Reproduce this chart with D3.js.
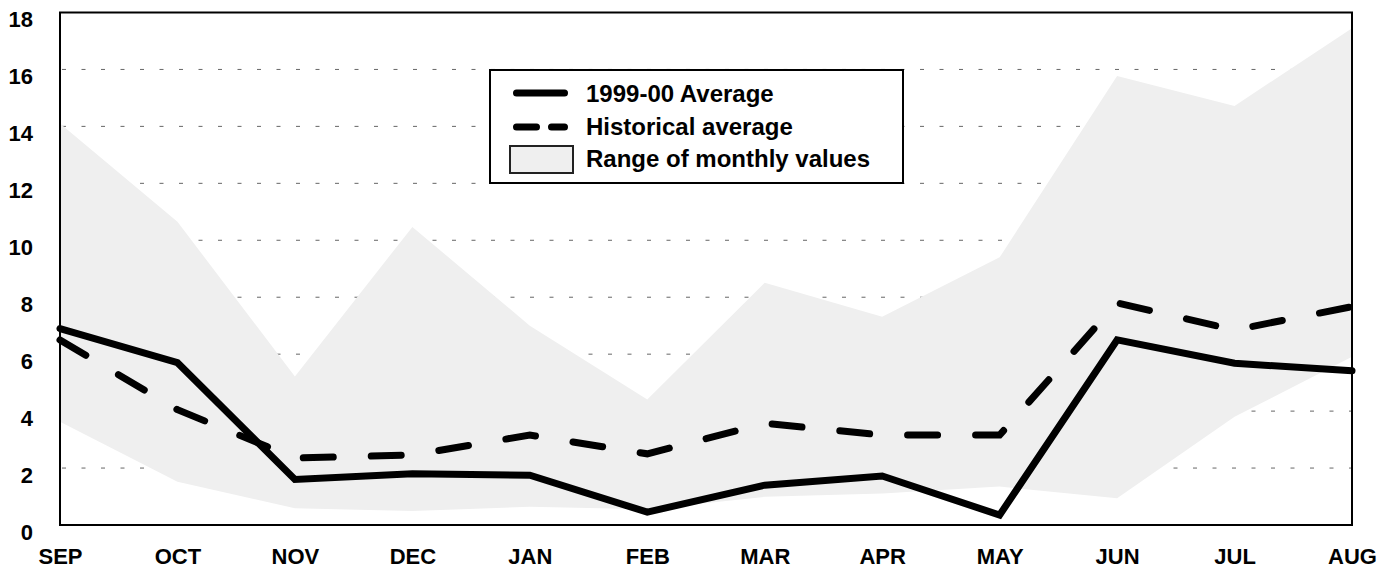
<!DOCTYPE html>
<html>
<head>
<meta charset="utf-8">
<script src="https://cdn.jsdelivr.net/npm/d3@7"></script>
<style>
  body { margin: 0; background: #fff; }
  text { font-family: "Liberation Sans", Arial, sans-serif; font-weight: bold; }
</style>
</head>
<body>
<div id="chart"></div>
<script>
var months = ['SEP', 'OCT', 'NOV', 'DEC', 'JAN', 'FEB', 'MAR', 'APR', 'MAY', 'JUN', 'JUL', 'AUG'];
var avg9900 = [6.9, 5.7, 1.6, 1.8, 1.75, 0.45, 1.4, 1.72, 0.35, 6.5, 5.68, 5.42];
var histAvg = [6.5, 4.05, 2.35, 2.46, 3.16, 2.5, 3.57, 3.16, 3.16, 7.8, 6.85, 7.67];
var rangeHigh = [14.1, 10.65, 5.22, 10.47, 7.0, 4.41, 8.51, 7.31, 9.4, 15.77, 14.72, 17.45];
var rangeLow = [3.63, 1.52, 0.59, 0.49, 0.64, 0.55, 0.99, 1.11, 1.35, 0.94, 3.8, 5.91];
var yTicks = [0, 2, 4, 6, 8, 10, 12, 14, 16, 18];
var gridVals = [2, 4, 6, 8, 10, 12, 14, 16];

var width = 1394, height = 575;
var plotLeft = 60, plotRight = 1352, plotTop = 12.5, plotBottom = 525;

var svg = d3.select('#chart').append('svg')
    .attr('width', width)
    .attr('height', height);

var x = d3.scalePoint()
    .domain(months)
    .range([plotLeft, plotRight]);

var y = d3.scaleLinear()
    .domain([0, 18])
    .range([plotBottom, plotTop]);

var data = months.map(function(m, i) {
    return {m: m, a: avg9900[i], h: histAvg[i], hi: rangeHigh[i], lo: rangeLow[i]};
});

// dotted grid first, the range area covers it
svg.append('g').selectAll('line')
    .data(gridVals)
    .enter().append('line')
    .attr('x1', plotLeft + 2)
    .attr('x2', plotRight)
    .attr('y1', function(d) { return y(d); })
    .attr('y2', function(d) { return y(d); })
    .attr('stroke', '#666')
    .attr('stroke-width', 1)
    .attr('stroke-dasharray', '4,15.5');

var area = d3.area()
    .x(function(d) { return x(d.m); })
    .y0(function(d) { return y(d.lo); })
    .y1(function(d) { return y(d.hi); });

svg.append('path')
    .datum(data)
    .attr('d', area)
    .attr('fill', '#efefef');

var lineHist = d3.line()
    .x(function(d) { return x(d.m); })
    .y(function(d) { return y(d.h); });

var lineAvg = d3.line()
    .x(function(d) { return x(d.m); })
    .y(function(d) { return y(d.a); });

svg.append('path')
    .datum(data)
    .attr('d', lineHist)
    .attr('fill', 'none')
    .attr('stroke', '#000')
    .attr('stroke-width', 7)
    .attr('stroke-linecap', 'round')
    .attr('stroke-dasharray', '30,38');

svg.append('path')
    .datum(data)
    .attr('d', lineAvg)
    .attr('fill', 'none')
    .attr('stroke', '#000')
    .attr('stroke-width', 7)
    .attr('stroke-linecap', 'round')
    .attr('stroke-linejoin', 'miter');

// frame
svg.append('rect')
    .attr('x', plotLeft)
    .attr('y', plotTop)
    .attr('width', plotRight - plotLeft)
    .attr('height', plotBottom - plotTop)
    .attr('fill', 'none')
    .attr('stroke', '#000')
    .attr('stroke-width', 2);

var yAxis = d3.axisLeft(y)
    .tickValues(yTicks)
    .tickSize(0)
    .tickPadding(27);

var gy = svg.append('g')
    .attr('transform', 'translate(' + plotLeft + ',0)')
    .call(yAxis);
gy.select('.domain').remove();
gy.selectAll('text')
    .attr('dy', '14px')
    .attr('font-size', '22px')
    .attr('font-family', '"Liberation Sans", Arial, sans-serif')
    .attr('font-weight', 'bold')
    .attr('fill', '#000');

var xAxis = d3.axisBottom(x)
    .tickSize(0)
    .tickPadding(23);

var gx = svg.append('g')
    .attr('transform', 'translate(0,' + plotBottom + ')')
    .call(xAxis);
gx.select('.domain').remove();
gx.selectAll('text')
    .attr('font-size', '22px')
    .attr('font-family', '"Liberation Sans", Arial, sans-serif')
    .attr('font-weight', 'bold')
    .attr('fill', '#000');

// legend
var legend = svg.append('g');
legend.append('rect')
    .attr('x', 490)
    .attr('y', 70)
    .attr('width', 413)
    .attr('height', 113)
    .attr('fill', '#fff')
    .attr('stroke', '#000')
    .attr('stroke-width', 2);

legend.append('line')
    .attr('x1', 516.5).attr('x2', 564.5)
    .attr('y1', 93).attr('y2', 93)
    .attr('stroke', '#000')
    .attr('stroke-width', 7)
    .attr('stroke-linecap', 'round');

legend.append('line')
    .attr('x1', 516.5).attr('x2', 564.5)
    .attr('y1', 127).attr('y2', 127)
    .attr('stroke', '#000')
    .attr('stroke-width', 7)
    .attr('stroke-linecap', 'round')
    .attr('stroke-dasharray', '20,15');

legend.append('rect')
    .attr('x', 510)
    .attr('y', 146)
    .attr('width', 63)
    .attr('height', 27)
    .attr('fill', '#efefef')
    .attr('stroke', '#222')
    .attr('stroke-width', 2);

var legendText = ['1999-00 Average', 'Historical average', 'Range of monthly values'];
var legendY = [102, 135, 167];
legend.selectAll('text.lg')
    .data(legendText)
    .enter().append('text')
    .attr('class', 'lg')
    .attr('x', 586)
    .attr('y', function(d, i) { return legendY[i]; })
    .attr('font-size', '24px')
    .text(function(d) { return d; });
</script>
</body>
</html>
